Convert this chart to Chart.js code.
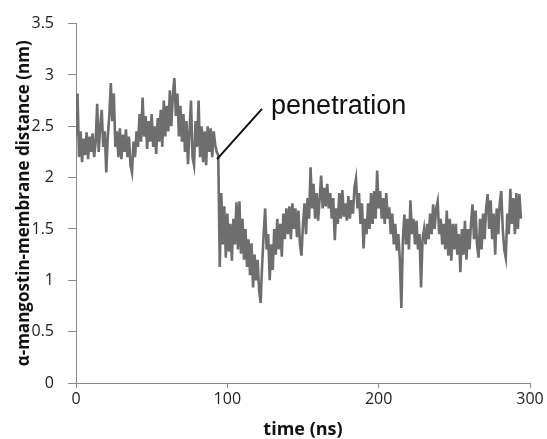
<!DOCTYPE html>
<html>
<head>
<meta charset="utf-8">
<script src="https://cdn.jsdelivr.net/npm/chart.js@4"></script>
<style>
  html, body { margin: 0; padding: 0; background: #fff; }
  canvas { display: block; }
</style>
</head>
<body>
<canvas id="distChart" width="547" height="439"></canvas>
<script>
const timeStep = 1;
const distance = [
  2.40, 2.82, 2.20, 2.45, 2.15, 2.38, 2.22, 2.44, 2.18, 2.40,
  2.25, 2.43, 2.20, 2.35, 2.72, 2.25, 2.50, 2.66, 2.30, 2.45,
  2.05, 2.40, 2.60, 2.92, 2.55, 2.82, 2.30, 2.45, 2.20, 2.48,
  2.18, 2.42, 2.25, 2.47, 2.20, 2.40, 2.12, 2.05, 2.35, 2.20,
  2.45, 2.30, 2.62, 2.35, 2.78, 2.40, 2.60, 2.28, 2.55, 2.35,
  2.62, 2.30, 2.50, 2.23, 2.58, 2.35, 2.66, 2.30, 2.75, 2.40,
  2.70, 2.45, 2.85, 2.50, 2.80, 2.97, 2.60, 2.82, 2.40, 2.70,
  2.35, 2.62, 2.25, 2.55, 2.13, 2.45, 2.75, 2.20, 2.12, 2.55,
  2.30, 2.75, 2.20, 2.50, 2.15, 2.45, 2.12, 2.50, 2.25, 2.48,
  2.20, 2.45, 2.32, 2.25, 2.22, 1.13, 1.85, 1.35, 1.72, 1.22,
  1.65, 1.28, 1.55, 1.19, 1.60, 1.35, 1.76, 1.30, 1.77, 1.26,
  1.60, 1.20, 1.50, 1.13, 1.40, 1.05, 1.36, 0.93, 1.25, 1.00,
  1.20, 0.90, 0.78, 1.15, 1.45, 1.70, 1.30, 1.45, 1.00, 1.35,
  1.10, 1.50, 1.25, 1.60, 1.30, 1.55, 1.23, 1.65, 1.40, 1.70,
  1.45, 1.72, 1.40, 1.75, 1.50, 1.70, 1.42, 1.68, 1.35, 1.24,
  1.55, 1.75, 1.45, 1.80, 1.60, 2.10, 1.70, 1.94, 1.60, 1.85,
  1.58, 1.80, 2.02, 1.70, 1.90, 1.72, 1.94, 1.70, 1.85, 1.60,
  1.80, 1.39, 1.70, 1.55, 1.85, 1.60, 1.88, 1.62, 1.75, 1.58,
  1.82, 1.60, 1.78, 1.65, 1.90, 1.99, 1.70, 1.85, 1.55, 1.75,
  1.31, 1.60, 1.45, 1.75, 1.50, 1.85, 1.55, 1.87, 1.60, 2.07,
  1.70, 1.87, 1.60, 1.80, 1.55, 1.85, 1.60, 1.71, 1.45, 1.65,
  1.35, 1.55, 1.29, 1.45, 1.20, 0.73, 1.40, 1.64, 1.35, 1.60,
  1.30, 1.78, 1.45, 1.60, 1.35, 1.58, 1.30, 1.45, 0.93, 1.40,
  1.50, 1.35, 1.55, 1.40, 1.65, 1.45, 1.74, 1.50, 1.70, 1.77,
  1.45, 1.60, 1.35, 1.55, 1.30, 1.68, 1.24, 1.60, 1.19, 1.55,
  1.30, 1.55, 1.25, 1.45, 1.08, 1.50, 1.25, 1.58, 1.20, 1.50,
  1.30, 1.55, 1.74, 1.40, 1.68, 1.35, 1.22, 1.60, 1.30, 1.65,
  1.40, 1.70, 1.84, 1.50, 1.78, 1.40, 1.65, 1.25, 1.70, 1.45,
  1.75, 1.87, 1.50, 1.30, 1.22, 1.65, 1.45, 1.89, 1.55, 1.80,
  1.45, 1.85, 1.50, 1.84, 1.60
];
const xTicks = [0, 100, 200, 300];
const yTicks = [0, 0.5, 1, 1.5, 2, 2.5, 3, 3.5];
const yTickLabels = ['0', '0.5', '1', '1.5', '2', '2.5', '3', '3.5'];

const annotText = 'penetration';
const annotFrom = { x: 93.2, y: 2.18 };
const annotTo = { x: 122.9, y: 2.67 };
const annotLabel = { x: 128.9, y: 2.62 };

const points = distance.map((v, i) => ({ x: i * timeStep, y: v }));

const axisGrey = '#8a8a8a';

const penetrationNote = {
  id: 'penetrationNote',
  afterDatasetsDraw(chart) {
    const { ctx, scales: { x, y } } = chart;
    ctx.save();
    ctx.strokeStyle = '#111';
    ctx.lineWidth = 2;
    ctx.beginPath();
    ctx.moveTo(x.getPixelForValue(annotFrom.x), y.getPixelForValue(annotFrom.y));
    ctx.lineTo(x.getPixelForValue(annotTo.x), y.getPixelForValue(annotTo.y));
    ctx.stroke();
    ctx.fillStyle = '#111';
    ctx.font = '27px "Liberation Sans", Arial, sans-serif';
    ctx.textBaseline = 'alphabetic';
    ctx.fillText(annotText, x.getPixelForValue(annotLabel.x), y.getPixelForValue(annotLabel.y));
    ctx.restore();
  }
};

new Chart(document.getElementById('distChart'), {
  type: 'line',
  data: {
    datasets: [{
      data: points,
      borderColor: '#6e6e6e',
      borderWidth: 2.6,
      pointRadius: 0,
      tension: 0,
      fill: false
    }]
  },
  options: {
    responsive: false,
    animation: false,
    devicePixelRatio: 1,
    layout: { padding: { top: 22, right: 17, left: 0, bottom: 0 } },
    plugins: { legend: { display: false }, tooltip: { enabled: false } },
    scales: {
      x: {
        type: 'linear',
        min: 0,
        max: 300,
        afterBuildTicks: s => { s.ticks = xTicks.map(v => ({ value: v })); },
        afterFit: s => { s.height = 56; },
        grid: { display: true, drawOnChartArea: false, tickLength: 5, color: axisGrey },
        border: { color: axisGrey, width: 1 },
        ticks: { color: '#222', padding: 2, maxRotation: 0, font: { family: 'Open Sans', size: 16 } },
        title: {
          display: true,
          text: 'time (ns)',
          color: '#111',
          padding: { top: 0, bottom: 0 },
          font: { family: 'Open Sans', size: 18, weight: 'bold', lineHeight: 1.0 }
        }
      },
      y: {
        min: 0,
        max: 3.5,
        afterBuildTicks: s => { s.ticks = yTicks.map(v => ({ value: v })); },
        afterFit: s => { s.width = 76; },
        grid: { display: true, drawOnChartArea: false, tickLength: 8, color: axisGrey },
        border: { color: axisGrey, width: 1 },
        ticks: {
          color: '#222',
          padding: 14,
          font: { family: 'Open Sans', size: 16 },
          callback: v => yTickLabels[yTicks.indexOf(v)]
        },
        title: {
          display: true,
          text: 'α-mangostin-membrane distance (nm)',
          color: '#111',
          padding: { top: 14, bottom: 0 },
          font: { family: 'Open Sans', size: 17, weight: 'bold', lineHeight: 1.2 }
        }
      }
    }
  },
  plugins: [penetrationNote]
});
</script>
</body>
</html>
